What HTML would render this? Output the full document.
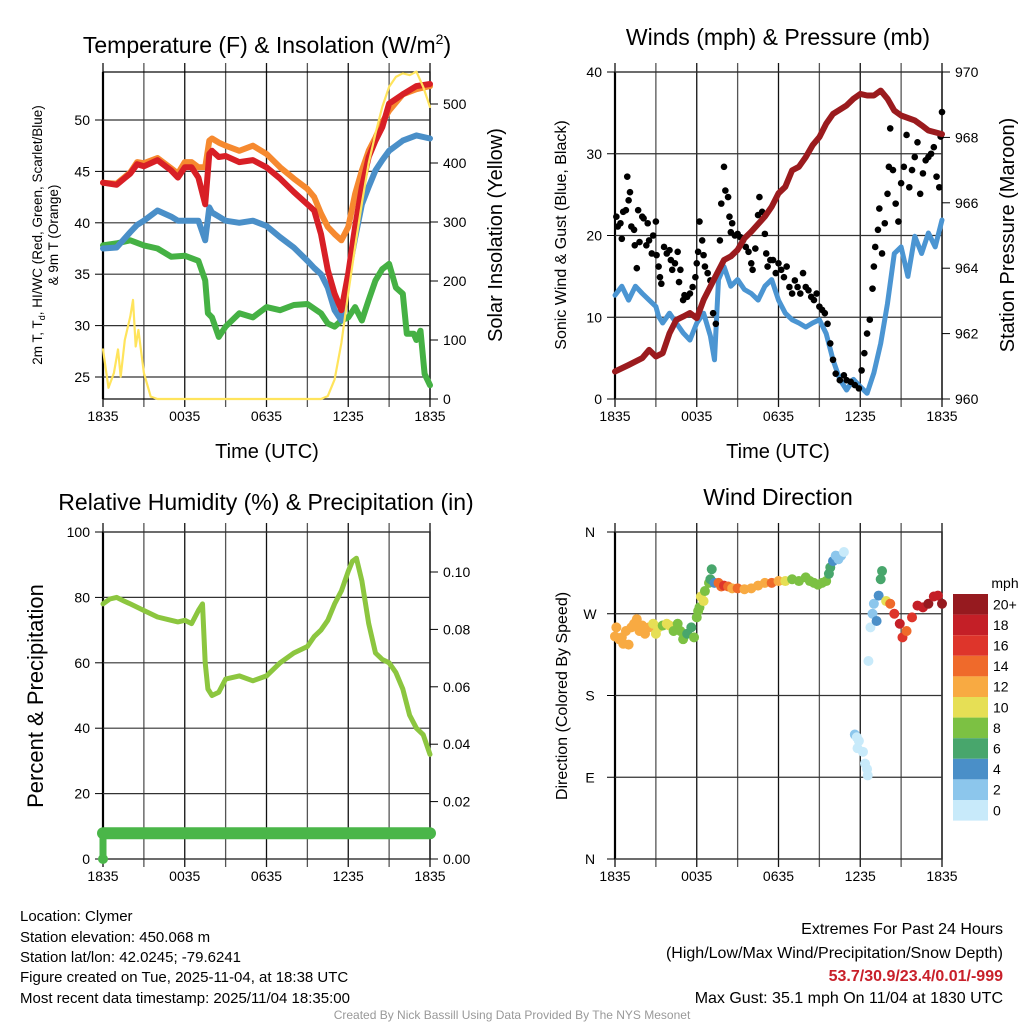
<!DOCTYPE html>
<html><head><meta charset="utf-8"><style>
html,body{margin:0;padding:0;background:#fff;}
svg{display:block;font-family:"Liberation Sans",sans-serif;}
</style></head><body>
<svg id="fig" width="1024" height="1024" viewBox="0 0 1024 1024">
<rect width="1024" height="1024" fill="#fff"/>
<text x="267" y="53" font-size="23" text-anchor="middle">Temperature (F) &amp; Insolation (W/m<tspan font-size="14" dy="-9">2</tspan><tspan dy="9">)</tspan></text>
<text x="778" y="45" font-size="23" text-anchor="middle">Winds (mph) &amp; Pressure (mb)</text>
<text x="266" y="510" font-size="23" text-anchor="middle">Relative Humidity (%) &amp; Precipitation (in)</text>
<text x="778" y="505" font-size="23" text-anchor="middle">Wind Direction</text>
<text x="267" y="458" font-size="20" text-anchor="middle">Time (UTC)</text>
<text x="778" y="458" font-size="20" text-anchor="middle">Time (UTC)</text>
<text transform="translate(42,235) rotate(-90)" font-size="13.5" text-anchor="middle">2m T, T<tspan font-size="9" dy="3">d</tspan><tspan dy="-3">, HI/WC (Red, Green, Scarlet/Blue)</tspan></text>
<text transform="translate(58,235) rotate(-90)" font-size="13.5" text-anchor="middle">&amp; 9m T (Orange)</text>
<text transform="translate(502,235) rotate(-90)" font-size="20" text-anchor="middle">Solar Insolation (Yellow)</text>
<text transform="translate(566,235) rotate(-90)" font-size="16" text-anchor="middle">Sonic Wind &amp; Gust (Blue, Black)</text>
<text transform="translate(1014,235) rotate(-90)" font-size="20" text-anchor="middle">Station Pressure (Maroon)</text>
<text transform="translate(43,696) rotate(-90)" font-size="22" text-anchor="middle">Percent &amp; Precipitation</text>
<text transform="translate(567,696) rotate(-90)" font-size="16" text-anchor="middle">Direction (Colored By Speed)</text>
<text x="1005" y="588" font-size="14" text-anchor="middle">mph</text>
<g font-size="15">
<text x="20" y="921">Location: Clymer</text>
<text x="20" y="942">Station elevation: 450.068 m</text>
<text x="20" y="962">Station lat/lon: 42.0245; -79.6241</text>
<text x="20" y="982">Figure created on Tue, 2025-11-04, at 18:38 UTC</text>
<text x="20" y="1003">Most recent data timestamp: 2025/11/04 18:35:00</text>
</g>
<g font-size="16" text-anchor="end">
<text x="1003" y="934">Extremes For Past 24 Hours</text>
<text x="1003" y="958">(High/Low/Max Wind/Precipitation/Snow Depth)</text>
<text x="1003" y="981" fill="#c8202a" font-weight="bold">53.7/30.9/23.4/0.01/-999</text>
<text x="1003" y="1003">Max Gust: 35.1 mph On 11/04 at 1830 UTC</text>
</g>
<text x="512" y="1019" font-size="12" fill="#999" text-anchor="middle">Created By Nick Bassill Using Data Provided By The NYS Mesonet</text>
</svg>
<script>
// ---------- data ----------
const xTickLabels = ["1835","0035","0635","1235","1835"];
const tempTicks = [25,30,35,40,45,50];
const solarTicks = [0,100,200,300,400,500];
const windTicks = [0,10,20,30,40];
const presTicks = [960,962,964,966,968,970];
const rhTicks = [0,20,40,60,80,100];
const precipTicks = ["0.00","0.02","0.04","0.06","0.08","0.10"];
const dirLabels = ["N","E","S","W","N"];
const speedLabels = ["0","2","4","6","8","10","12","14","16","18","20+"];

const tHours = [0,1,2,2.5,3,4,5,5.5,6,6.5,7,7.5,7.8,8,8.5,9,10,11,12,13,14,15,15.5,16,16.5,17,17.5,18,18.5,19,19.5,20,20.5,21,22,23,24];
const tempRed = [43.9,43.7,44.8,45.7,45.5,46.1,45.1,44.4,45.4,45.4,44.4,41.8,46.7,47.0,46.4,46.5,45.9,46.1,45.4,44.3,43.0,41.8,41.2,38.9,35.4,33.1,31.5,35.1,39.6,43.5,46.4,48.0,49.3,51.6,52.5,53.3,53.5];
const tempOrange = [43.9,43.8,44.9,45.9,45.8,46.3,45.3,44.8,45.9,45.9,45.4,45.4,48.0,48.2,47.8,47.5,47.0,47.5,46.7,45.4,44.3,43.3,42.5,40.9,39.6,38.9,38.3,39.6,42.8,45.1,47.0,48.3,49.8,50.9,52.5,53.0,53.3];
const tempBlue = [37.5,37.6,39.1,39.8,40.2,41.2,40.6,40.2,40.2,40.2,40.2,38.3,41.5,41.0,40.6,40.2,40.0,40.2,39.7,38.6,37.6,36.3,35.6,35.0,33.7,31.5,30.5,35.0,38.5,41.8,43.5,45.1,46.1,47.0,48.0,48.5,48.2];
const dewHours = [0,1,2,3,4,5,6,7,7.5,7.7,8,8.5,9,10,11,12,13,14,15,16,16.5,17,17.5,18,18.5,19,19.5,20,20.5,21,21.5,22,22.3,22.8,23,23.3,23.6,24];
const dewGreen = [37.8,38.0,38.3,37.8,37.5,36.7,36.8,36.3,34.4,31.2,30.8,28.9,29.9,31.2,30.8,31.8,31.5,32.0,32.1,31.2,30.2,29.9,30.5,30.8,31.8,30.5,32.5,34.4,35.5,36.0,33.7,33.1,29.2,29.2,28.6,29.5,25.3,24.2];
const solarHours = [0,0.4,0.8,1.1,1.3,1.6,2,2.2,2.4,2.6,3,3.5,4,8,12,16,16.5,17,17.5,18,18.5,19,19.5,20,20.5,21,21.5,22,22.5,23,23.5,24];
const solarVals = [84,19,44,84,38,100,140,168,89,117,44,4,0,0,0,0,5,33,95,180,258,332,400,450,495,529,546,552,549,555,529,495];

const presHours = [0,1,2,2.5,3,3.5,4,4.5,5,5.5,6,6.5,7,7.5,8,8.5,9,9.5,10,11,11.5,12,12.5,13,13.5,14,14.5,15,15.5,16,17,17.5,18,18.5,19,19.5,20,20.5,21,22,22.5,23,24];
const presVals = [960.84,961.04,961.25,961.5,961.3,961.4,962.01,962.42,962.52,962.63,962.47,963.03,963.44,963.85,964.25,964.36,964.56,964.91,965.12,965.58,965.88,966.29,966.49,966.99,967.1,967.4,967.76,968.01,968.42,968.72,968.98,969.18,969.33,969.28,969.28,969.43,969.18,968.82,968.67,968.52,968.37,968.21,968.1];
const windHours = [0,0.5,1,1.5,2,2.5,3,3.2,3.5,4,4.5,5,5.5,6,6.5,7,7.3,7.6,8,8.5,9,9.5,10,10.5,11,11.5,12,12.5,13,13.5,14,14.5,15,15.5,16,16.5,17,17.5,18,18.5,19,19.5,20,20.5,21,21.5,22,22.5,23,23.5,24];
const windVals = [12.7,13.8,12.1,13.8,12.9,12.1,11.3,10.1,9.3,10.5,9.3,8.1,7.2,9.3,10.5,7.7,4.8,14.6,16.2,13.8,14.6,13.4,12.9,12.1,13.8,14.6,12.1,10.5,9.7,9.3,8.8,9.3,9.7,8.0,4.8,2.4,1.1,2.4,1.5,0.7,3.2,6.8,11.7,17.8,18.6,15.0,19.9,17.8,20.3,18.6,21.9];
const gustHours = [0.1,0.2,0.4,0.5,0.6,0.8,0.9,1.0,1.1,1.2,1.4,1.45,1.6,1.7,1.8,2.0,2.1,2.3,2.4,2.5,2.7,2.8,3.0,3.05,3.2,3.3,3.4,3.6,3.8,4.0,4.1,4.2,4.4,4.6,4.7,4.8,5.0,5.1,5.3,5.5,5.7,5.9,6.0,6.1,6.2,6.4,6.5,6.6,6.8,7.0,7.2,7.4,7.7,7.8,8.0,8.1,8.3,8.4,8.5,8.6,8.8,9.0,9.2,9.4,9.6,9.8,10.0,10.1,10.3,10.5,10.6,10.8,11.0,11.1,11.2,11.4,11.6,11.8,12.0,12.2,12.4,12.6,12.8,13.0,13.2,13.4,13.6,13.8,14.0,14.2,14.4,14.6,14.8,15.0,15.2,15.4,15.6,15.8,16.0,16.2,16.5,16.8,17.0,17.3,17.6,17.9,18.1,18.3,18.5,18.7,18.9,19.0,19.1,19.3,19.4,19.6,19.8,20.0,20.1,20.2,20.4,20.6,20.8,21.0,21.2,21.4,21.6,21.8,22.0,22.2,22.4,22.6,22.8,23.0,23.2,23.4,23.6,23.8,23.9,24.0];
const gustVals = [22.3,21.1,21.5,19.6,22.9,23.1,27.2,24.3,25.3,21.1,20.7,18.8,16.0,23.1,19.2,22.3,22.1,18.8,21.5,19.4,17.8,20.0,21.7,17.6,16.2,14.9,14.1,18.6,17.8,18.2,17.0,15.8,16.6,18.0,14.3,15.8,12.1,12.7,12.5,12.9,13.7,14.9,16.6,18.0,21.7,19.4,17.6,16.2,15.4,14.5,10.5,9.2,19.4,23.9,28.4,25.5,24.7,22.3,20.4,21.5,20.0,20.2,19.8,19.4,18.6,18.0,16.6,15.8,18.4,22.5,24.7,22.9,20.2,17.8,16.2,17.0,17.0,15.4,16.6,15.8,14.9,16.2,13.7,12.9,14.5,13.7,12.9,15.4,13.7,13.3,12.5,12.1,12.9,11.3,10.9,10.5,9.2,6.8,4.8,3.1,2.3,2.9,2.3,2.1,1.7,1.3,3.5,5.6,8.0,9.7,13.5,16.2,18.6,20.7,23.3,17.8,21.5,25.1,28.4,33.1,28.0,23.9,21.7,26.4,28.4,32.3,25.9,28.0,29.6,31.4,25.1,27.6,29.2,29.6,30.0,30.8,27.2,25.9,32.1,35.1];

const rhHours = [0,0.5,1,1.5,2,3,4,5,5.5,6,6.5,7,7.3,7.5,7.7,8,8.5,9,10,11,12,13,14,15,15.5,16,16.5,17,17.5,18,18.3,18.6,19,19.5,20,20.5,21,21.5,22,22.5,23,23.5,24];
const rhVals = [78,79.5,80,79,78,76,74,73,72.5,73,72,76,78,60,52,50,51,55,56,54.5,56,60,63,65,68,70,73,78,82,88,91,92,85,72,63,61,60,57,52,44,40,38,32];
const precipHours = [0,24];
const precipVals = [0.009,0.009];

const dirHours = [0,0.1,0.3,0.5,0.6,0.8,1,1.2,1.4,1.6,1.8,2,2.2,2.5,2.8,3,3.2,3.5,3.8,4,4.3,4.6,4.8,5,5.3,5.6,5.8,6,6.1,6.2,6.3,6.5,6.6,6.9,7,7.1,7.3,7.6,7.8,8,8.3,8.6,9,9.5,10,10.5,11,11.5,12,12.5,13,13.5,14,14.3,14.6,14.9,15.2,15.5,15.7,15.8,16,16.2,16.4,16.6,16.8,17.6,17.75,17.9,17.8,18.2,18.35,18.5,18.55,18.6,18.75,18.9,19.0,19.2,19.35,19.5,19.6,19.9,20.2,20.5,20.9,21.1,21.4,21.8,22.2,22.6,23.0,23.4,23.7,24.0];
const dirVals = [245,255,242,244,237,251,236,255,259,264,251,257,248,255,259,248,255,257,259,257,251,259,251,242,248,255,244,266,273,277,289,284,295,304,308,319,304,304,300,301,300,298,298,297,298,301,304,304,306,306,308,306,310,306,304,302,304,306,314,321,328,334,330,334,338,137,134,130,122,118,105,99,92,218,255,270,281,262,290,308,317,284,281,270,259,244,251,266,279,277,281,289,290,281,284,277,281,289].slice(0,94);

// ---------- helpers ----------
const NS = "http://www.w3.org/2000/svg";
const svg = document.getElementById("fig");
function mk(tag, attrs, parent){ const e=document.createElementNS(NS,tag); for(const k in attrs) e.setAttribute(k,attrs[k]); (parent||svg).appendChild(e); return e; }
function lin(d0,d1,r0,r1){ return v => r0+(v-d0)*(r1-r0)/(d1-d0); }
function interp(xs,ys,x){ if(x<=xs[0]) return ys[0]; for(let i=1;i<xs.length;i++){ if(x<=xs[i]){ const t=(x-xs[i-1])/(xs[i]-xs[i-1]); return ys[i-1]+t*(ys[i]-ys[i-1]); } } return ys[ys.length-1]; }
const speedColors = ["#c8eafa","#8cc6ec","#4a8fc8","#48a66c","#7cc143","#e6df55","#f8aa42","#ef6a2b","#de352b","#c41f27","#961a1f"];
function speedColor(s){ return speedColors[Math.max(0,Math.min(10,Math.floor(s/2)))]; }

function panel(name, L, R, T, B){
  const g = mk("g",{});
  
  
  const xs = lin(0,24,L,R);
  // vertical grid every 3h, extended past frame
  for(let h=0;h<=24;h+=3){
    const gl = mk("line",{x1:xs(h),x2:xs(h),y1:T-9,y2:B+8,stroke:(h%6===0)?"#111":"#555","stroke-width":1.3},g);
    
    
  }
  const fr = mk("rect",{x:L,y:T,width:R-L,height:B-T,fill:"none",stroke:"#000","stroke-width":1.2},g);
  
  
  const ax = mk("line",{x1:L,x2:L,y1:T,y2:B,stroke:"#000","stroke-width":2.2},g);
  
  
  xTickLabels.forEach((lab,i)=>{
    const t = mk("text",{x:xs(i*6),y:B+22,"font-size":14,"text-anchor":"middle"},g);
    t.textContent = lab;
    
    
  });
  return {g, xs};
}
function hgrid(g,L,R,y,name){
  const l = mk("line",{x1:L,x2:R,y1:y,y2:y,stroke:"#333","stroke-width":1.2},g);
  
  
}
function ytick(g,x,y,txt,anchor,name,dir){
  const tk = mk("line",{x1:x,x2:x+dir*8,y1:y,y2:y,stroke:"#000","stroke-width":1},g);
  
  
  const t = mk("text",{x:x+dir*13,y:y+5,"font-size":14,"text-anchor":anchor},g);
  t.textContent = txt;
  
  
}
function path(g,xsArr,ysArr,fx,fy,color,w,name){
  let d="";
  xsArr.forEach((h,i)=>{ d+=(i?"L":"M")+fx(h).toFixed(1)+","+fy(ysArr[i]).toFixed(1); });
  const p = mk("path",{d:d,fill:"none",stroke:color,"stroke-width":w,"stroke-linejoin":"round","stroke-linecap":"round"},g);
  
  
  return p;
}

// ---------- panel 1 ----------
{
  const L=103,R=430,T=72,B=399;
  const {g,xs} = panel("temperature-panel",L,R,T,B);
  const yT = lin(25,50,377,120);
  const yS = lin(0,500,399,104);
  tempTicks.forEach(v=>{ hgrid(g,L,R,yT(v),'temp-gridline'); ytick(g,L,yT(v),String(v),"end",'temp-y',-1); });
  solarTicks.forEach(v=>{ ytick(g,R,yS(v),String(v),"start",'solar-y',1); });
  path(g,dewHours,dewGreen,xs,yT,"#45b144",6,"dewpoint-line");
  path(g,tHours,tempBlue,xs,yT,"#4a8fc8",6,"windchill-line");
  path(g,tHours,tempOrange,xs,yT,"#f6892f",6,"temp-9m-line");
  path(g,tHours,tempRed,xs,yT,"#d81f26",6,"temp-2m-line");
  path(g,solarHours,solarVals,xs,yS,"#ffe45c",2.2,"solar-line");
}
// ---------- panel 2 ----------
{
  const L=615,R=942,T=72,B=399;
  const {g,xs} = panel("wind-panel",L,R,T,B);
  const yW = lin(0,40,B,T);
  const yP = lin(960,970,B,T);
  windTicks.forEach(v=>{ hgrid(g,L,R,yW(v),'wind-gridline'); ytick(g,L,yW(v),String(v),"end",'wind-y',-1); });
  presTicks.forEach(v=>{ ytick(g,R,yP(v),String(v),"start",'pressure-y',1); });
  path(g,windHours,windVals,xs,yW,"#4b95d2",5,"wind-speed-line");
  gustHours.forEach((h,i)=>{
    const c = mk("circle",{cx:xs(h),cy:yW(gustVals[i]),r:3.3,fill:"#000"},g);
    
    
  });
  path(g,presHours,presVals,xs,yP,"#9b1b1e",6,"pressure-line");
}
// ---------- panel 3 ----------
{
  const L=103,R=430,T=532,B=859;
  const {g,xs} = panel("humidity-panel",L,R,T,B);
  const yR = lin(0,100,B,T);
  const yPr = lin(0,0.02,B,B-57.4);
  rhTicks.forEach(v=>{ hgrid(g,L,R,yR(v),'rh-gridline'); ytick(g,L,yR(v),String(v),"end",'rh-y',-1); });
  precipTicks.forEach(v=>{ ytick(g,R,yPr(parseFloat(v)),v,"start",'precip-y',1); });
  path(g,rhHours,rhVals,xs,yR,"#8cc63f",5,"rh-line");
  const pl = path(g,precipHours,precipVals,xs,yPr,"#4ab649",12,"precip-line");
  const s = mk("line",{x1:xs(0),x2:xs(0),y1:yPr(0),y2:yPr(precipVals[0]),stroke:"#4ab649","stroke-width":7},g);
  
  
  const c0 = mk("circle",{cx:xs(0),cy:yPr(0),r:5,fill:"#4ab649"},g);
  
  
}
// ---------- panel 4 ----------
{
  const L=615,R=942,T=532,B=859;
  const {g,xs} = panel("direction-panel",L,R,T,B);
  const yD = lin(0,360,B,T);
  dirLabels.forEach((lab,i)=>{
    const v=i*90;
    hgrid(g,L,R,yD(v),'direction-gridline');
    const tk = mk("line",{x1:L,x2:L-8,y1:yD(v),y2:yD(v),stroke:"#000","stroke-width":1},g);
    
    
    const t = mk("text",{x:590,y:yD(v)+5,"font-size":14,"text-anchor":"middle"},g);
    t.textContent = lab;
    
    
  });
  dirHours.forEach((h,i)=>{
    const sp = interp(windHours,windVals,h);
    const c = mk("circle",{cx:xs(h),cy:yD(dirVals[i]),r:5,fill:speedColor(sp)},g);
    
    
  });
  // colorbar
  const cb = mk("g",{});
  
  
  const bh = 20.6, top = 594;
  speedLabels.forEach((lab,i)=>{
    const idx = 10-i;
    const r = mk("rect",{x:953,y:top+i*bh,width:35,height:bh,fill:speedColors[idx]},cb);
    
    
    const t = mk("text",{x:993,y:top+i*bh+bh/2+5,"font-size":14},cb);
    t.textContent = speedLabels[idx];
    
    
  });
}
</script>
</body></html>
